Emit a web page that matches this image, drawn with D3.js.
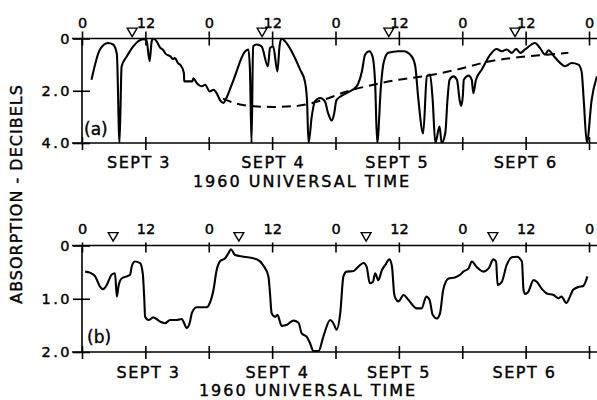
<!DOCTYPE html>
<html>
<head>
<meta charset="utf-8">
<script src="https://cdn.jsdelivr.net/npm/d3@7"></script>
<style>
body { margin: 0; background: #fff; }
svg { display: block; font-family: "DejaVu Sans", sans-serif; }
svg text { fill: #000; stroke: #000; stroke-width: 0.4px; }
</style>
</head>
<body>
<div id="chart"></div>
<script>
// hours since 0 UT Sept 3 1960, absorption in dB
var curveA = [[1.8,1.58],[3.4,0.42],[4.9,0.17],[5.9,0.23],[6.6,0.6],[7.1,4.0],[7.5,1.07],[8.5,0.68],[9.7,0.3],
  [11.6,0.03],[12.2,0.05],[12.8,0.87],[13.2,0.1],[13.5,0],[14.1,0.1],[14.8,0.35],[15.4,0.45],[15.8,0.58],[16.7,0.68],
  [17.2,0.78],[17.6,0.75],[18.2,0.95],[18.6,1.0],[19.3,1.32],[19.35,1.64],[20.9,1.64],[21.1,1.52],[21.7,1.7],
  [22.7,1.83],[23.3,1.77],[24.2,2.03],[24.9,1.96],[25.5,2.09],[26.1,2.35],[26.8,2.47],[27.3,2.3],[28.7,1.58],
  [30.9,0.49],[31.5,0.42],[31.8,1.2],[32.1,4.0],[32.4,0.3],[33.1,0.23],[34,0.3],[35.2,1.06],[35.6,0.36],[36.2,0.3],
  [37,1.26],[37.4,0.3],[37.8,0],[38.4,0.1],[41.3,1.19],[42.2,1.64],[42.6,2.35],[42.9,4.0],[43.5,2.99],[44.1,2.41],
  [45.1,2.28],[46,2.41],[46.6,2.86],[47.3,3.14],[47.7,2.92],[48.2,2.35],[50.1,2.09],[52,1.83],[53,1.26],[53.6,0.62],
  [54.4,0.49],[55,0.68],[55.5,1.7],[55.9,4.0],[56.6,1.83],[57.1,0.94],[58,0.55],[59.9,0.49],[60.9,0.49],[62.4,0.68],
  [63.1,1.06],[63.7,2.35],[64.6,3.63],[65.3,1.45],[65.9,1.38],[66.4,2.35],[66.9,4.0],[67.7,3.37],[68.1,4.0],[68.8,3.6],
  [69.2,2.35],[69.6,1.58],[70.3,1.45],[71,1.58],[71.5,2.35],[71.8,2.58],[72.1,2.22],[72.3,1.58],[73.2,1.42],[73.8,1.58],
  [74.1,2.09],[74.6,1.58],[75.7,1.19],[77.3,0.62],[78.5,0.4],[79.5,0.49],[80.4,0.42],[81.4,0.55],[82.2,0.4],[83,0.55],
  [83.9,0.42],[85.8,0.17],[86.7,0.36],[87.7,0.62],[88.3,0.45],[89.6,0.74],[90.9,1.0],[91.5,1.06],[92.7,0.94],[94,1.0],
  [94.6,1.26],[95,2.35],[95.6,4.0],[96.5,2.35],[97.5,1.45]];

var dashedA = [[26.7,2.3],[29,2.48],[31.8,2.58],[36.2,2.62],[40.7,2.58],[45.7,2.35],[50.1,2.03],[55.2,1.77],
  [59.9,1.58],[64.6,1.45],[71,1.19],[77.3,0.87],[83.5,0.7],[88,0.62],[92.1,0.55]];

var curveB = [[0.6,0.49],[1.5,0.51],[2.5,0.58],[3.4,0.77],[4,0.82],[4.7,0.74],[5.6,0.55],[6.25,0.52],[6.6,0.96],
  [6.9,0.77],[7.5,0.62],[8.5,0.58],[9.1,0.55],[9.4,0.4],[10,0.3],[11,0.33],[11.5,0.52],[11.8,1.02],[11.95,1.34],
  [12.6,1.4],[13.5,1.35],[14.8,1.43],[15.7,1.46],[16.7,1.4],[17.9,1.4],[18.9,1.38],[19.3,1.45],[19.8,1.55],[20.4,1.45],
  [20.8,1.27],[21.7,1.16],[23.6,1.16],[24.2,1.08],[24.9,0.83],[25.5,0.46],[26.1,0.3],[27.1,0.24],[27.7,0.15],[28.2,0.07],
  [29,0.18],[30.6,0.21],[33.1,0.26],[34.3,0.37],[35.3,0.58],[35.6,0.9],[35.9,1.27],[36.6,1.34],[37,1.3],[37.8,1.51],
  [38.8,1.49],[40,1.41],[41,1.45],[41.6,1.65],[42.6,1.72],[43.2,1.84],[43.8,1.98],[44.8,1.98],[45.7,1.71],[47,1.4],
  [47.6,1.46],[48.2,1.58],[48.9,1.27],[49.5,0.58],[50.1,0.49],[51.4,0.48],[52,0.43],[53.3,0.33],[53.9,0.4],[54.5,0.71],
  [55.1,0.68],[55.5,0.52],[56.1,0.65],[56.8,0.46],[57.4,0.37],[58.2,0.26],[58.7,0.4],[59.1,0.9],[59.4,1.0],[59.9,1.05],
  [60.9,0.93],[61.8,1.02],[63.4,1.18],[64.3,1.18],[65.2,0.96],[65.8,1.02],[66.4,1.3],[67.2,1.37],[67.8,1.27],[68.4,0.83],
  [69.4,0.62],[70.6,0.6],[71.6,0.55],[72.2,0.49],[73.2,0.43],[73.8,0.3],[74.7,0.4],[76,0.49],[77,0.43],[77.9,0.26],
  [78.4,0.3],[78.7,0.74],[79.5,0.68],[80.4,0.37],[81.4,0.22],[82.3,0.21],[83.3,0.3],[83.6,0.83],[83.9,0.91],[84.5,0.87],
  [85.5,0.65],[86.1,0.68],[87.1,0.82],[88,0.9],[89.3,0.93],[90.2,0.99],[90.8,0.96],[91.7,1.08],[92.4,0.96],[93,0.83],
  [94,0.78],[94.9,0.76],[95.7,0.58]];

// triangle markers (hour)
var trianglesA = [9.5, 34.1, 58.1, 82];
var trianglesB = [5.9, 29.7, 53.8, 77.8];

var hourTicks = [0, 12, 24, 36, 48, 60, 72, 84, 96];
var dayLabels = ["SEPT 3", "SEPT 4", "SEPT 5", "SEPT 6"];
var dayHoursA = [10.8, 36.2, 59.7, 84];
var dayHoursB = [12.6, 37, 60, 83.8];
var yTicksA = [0, 2, 4];
var yTicksB = [0, 1, 2];

var width = 597, height = 400;

var svg = d3.select("#chart").append("svg")
    .attr("width", width)
    .attr("height", height);

// shared time scale
var x = d3.scaleLinear().domain([0, 96]).range([82, 589]);
var xEnd = 597;

function drawPanel(p) {
    var y = d3.scaleLinear().domain([0, p.max]).range([p.top, p.bottom]);
    var g = svg.append("g");

    // frame lines (open on the right)
    g.append("line").attr("x1", 72).attr("x2", xEnd).attr("y1", y(0)).attr("y2", y(0));
    g.append("line").attr("x1", 72).attr("x2", xEnd).attr("y1", y(p.max)).attr("y2", y(p.max));
    g.append("line").attr("x1", x(0)).attr("x2", x(0)).attr("y1", y(0)).attr("y2", y(p.max));
    g.selectAll("line").attr("stroke", "#000").attr("stroke-width", 1.6);

    // top time axis
    var top = g.append("g")
        .attr("transform", "translate(0," + y(0) + ")")
        .call(d3.axisTop(x).tickValues(hourTicks).tickSize(p.topUp).tickPadding(p.topPad)
            .tickFormat(function(d) { return d % 24 === 0 ? "0" : "12"; }));
    top.select(".domain").remove();
    top.selectAll(".tick line").attr("y1", p.topDown).attr("stroke-width", 1.6);
    top.selectAll(".tick text").style("font-size", "14.5px").style("font-family", "DejaVu Sans");

    // bottom time axis
    var bot = g.append("g")
        .attr("transform", "translate(0," + y(p.max) + ")")
        .call(d3.axisBottom(x).tickValues(hourTicks).tickSize(7).tickFormat(""));
    bot.select(".domain").remove();
    bot.selectAll(".tick line").attr("y1", -6).attr("stroke-width", 1.6);

    // left axis
    var left = g.append("g")
        .attr("transform", "translate(" + x(0) + ",0)")
        .call(d3.axisLeft(y).tickValues(p.yTicks).tickSize(9).tickPadding(1)
            .tickFormat(function(d) { return d === 0 ? "0" : d3.format(".1f")(d); }));
    left.select(".domain").remove();
    left.selectAll(".tick line").attr("x1", 8).attr("stroke-width", 1.6);
    left.selectAll(".tick text").style("font-size", "14.5px").style("font-family", "DejaVu Sans")
        .style("letter-spacing", "2.5px");

    // triangles
    g.selectAll(".tri").data(p.triangles).enter().append("path")
        .attr("d", d3.symbol().type(d3.symbolTriangle).size(42))
        .attr("transform", function(d) { return "translate(" + x(d) + "," + (y(0) - p.triOff) + ") rotate(180)"; })
        .attr("fill", "none").attr("stroke", "#000").attr("stroke-width", 1.4);

    // clip
    svg.append("clipPath").attr("id", "clip" + p.id).append("rect")
        .attr("x", x(0)).attr("y", y(0)).attr("width", xEnd - x(0)).attr("height", y(p.max) - y(0));

    var line = d3.line()
        .x(function(d) { return x(d[0]); })
        .y(function(d) { return y(d[1]); })
        .curve(d3.curveMonotoneX);

    if (p.dashed) {
        g.append("path").datum(p.dashed)
            .attr("d", line)
            .attr("clip-path", "url(#clip" + p.id + ")")
            .attr("fill", "none").attr("stroke", "#000").attr("stroke-width", 2)
            .attr("stroke-dasharray", "9,6");
    }

    g.append("path").datum(p.data)
        .attr("d", line)
        .attr("clip-path", "url(#clip" + p.id + ")")
        .attr("fill", "none").attr("stroke", "#000").attr("stroke-width", 2.1)
        .attr("stroke-linejoin", "round");

    // panel tag
    g.append("text").attr("x", p.tagX).attr("y", p.tagY)
        .style("font-size", "17px").text(p.tag);

    // day labels
    g.selectAll(".day").data(dayLabels).enter().append("text")
        .attr("x", function(d, i) { return x(p.dayHours[i]); })
        .attr("y", p.dayY)
        .attr("text-anchor", "middle")
        .style("font-size", "16px").style("letter-spacing", "1.5px")
        .text(function(d) { return d; });

    g.append("text").attr("x", p.titleX).attr("y", p.titleY)
        .attr("text-anchor", "middle")
        .style("font-size", "16px").style("letter-spacing", "2px")
        .text("1960 UNIVERSAL TIME");
}

drawPanel({id: "a", max: 4, top: 38.5, bottom: 143, yTicks: yTicksA, topUp: 7, topDown: 7, topPad: 4,
    triangles: trianglesA, triOff: 7.5, data: curveA, dashed: dashedA,
    tag: "(a)", tagX: 84, tagY: 135, dayHours: dayHoursA, dayY: 168, titleX: 302, titleY: 187});

drawPanel({id: "b", max: 2, top: 245.5, bottom: 352, yTicks: yTicksB, topUp: 3, topDown: 7, topPad: 9,
    triangles: trianglesB, triOff: 10, data: curveB, dashed: null,
    tag: "(b)", tagX: 87, tagY: 343, dayHours: dayHoursB, dayY: 378, titleX: 308, titleY: 396});

// shared y label
svg.append("text")
    .attr("transform", "translate(22,194) rotate(-90)")
    .attr("text-anchor", "middle")
    .style("font-size", "16px").style("letter-spacing", "1px")
    .text("ABSORPTION - DECIBELS");
</script>
</body>
</html>
